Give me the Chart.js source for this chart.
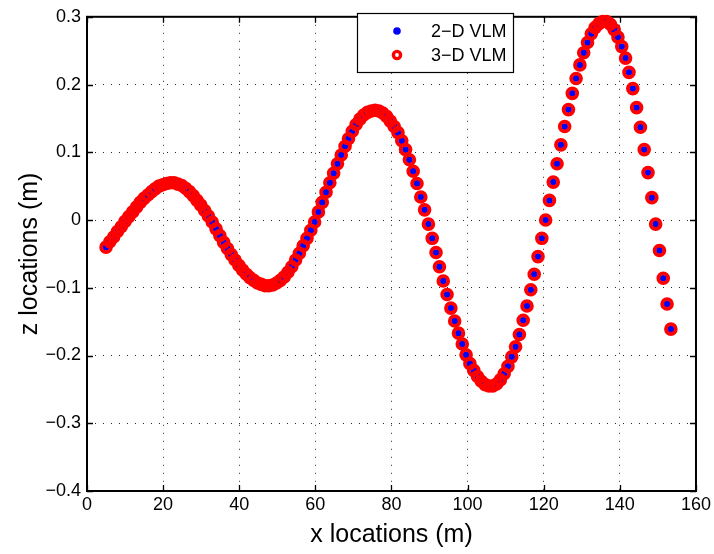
<!DOCTYPE html>
<html>
<head>
<meta charset="utf-8">
<script src="https://cdn.jsdelivr.net/npm/chart.js@4.4.1/dist/chart.umd.min.js"></script>
<style>
  html, body { margin: 0; padding: 0; background: #fff; }
  #wrap { width: 714px; height: 554px; }
</style>
</head>
<body>
<div id="wrap"><canvas id="wake" width="714" height="554"></canvas></div>
<script>
// Wake panel positions (x, z) in metres.
const xLocations = [
  5.0, 6.0, 7.0, 8.0, 9.0, 10.0, 11.0, 12.0, 13.0, 14.0,
  15.0, 16.0, 17.0, 17.9, 18.9, 19.9, 20.9, 21.9, 22.9, 23.9,
  24.9, 25.9, 26.9, 27.9, 28.9, 29.9, 30.9, 31.9, 32.9, 33.9,
  34.9, 35.9, 36.9, 37.9, 38.9, 39.9, 40.9, 41.9, 42.8, 43.8,
  44.8, 45.8, 46.8, 47.8, 48.8, 49.8, 50.8, 51.8, 52.8, 53.8,
  54.8, 55.8, 56.8, 57.8, 58.8, 59.8, 60.8, 61.8, 62.8, 63.8,
  64.8, 65.8, 66.8, 67.8, 68.7, 69.7, 70.7, 71.7, 72.7, 73.7,
  74.7, 75.7, 76.7, 77.7, 78.7, 79.7, 80.7, 81.7, 82.7, 83.7,
  84.7, 85.7, 86.7, 87.7, 88.7, 89.7, 90.7, 91.7, 92.6, 93.6,
  94.6, 95.6, 96.6, 97.6, 98.6, 99.6, 100.6, 101.6, 102.6, 103.6,
  104.6, 105.6, 106.6, 107.6, 108.6, 109.6, 110.6, 111.6, 112.6, 113.6,
  114.6, 115.6, 116.6, 117.5, 118.5, 119.5, 120.5, 121.5, 122.5, 123.5,
  124.5, 125.5, 126.5, 127.5, 128.5, 129.5, 130.5, 131.5, 132.5, 133.5,
  134.5, 135.5, 136.5, 137.5, 138.5, 139.5, 140.5, 141.5, 142.4, 143.4,
  144.4, 145.4, 146.4, 147.4, 148.4, 149.4, 150.4, 151.4, 152.4, 153.4
];

const zVlm2D = [
  -0.040, -0.032, -0.025, -0.017, -0.010, -0.002, 0.005, 0.012, 0.019, 0.026,
  0.032, 0.037, 0.042, 0.046, 0.050, 0.052, 0.054, 0.055, 0.055, 0.053,
  0.051, 0.047, 0.042, 0.036, 0.029, 0.022, 0.014, 0.006, -0.003, -0.013,
  -0.023, -0.033, -0.042, -0.051, -0.059, -0.067, -0.074, -0.080, -0.085, -0.089,
  -0.093, -0.095, -0.097, -0.097, -0.096, -0.093, -0.089, -0.084, -0.077, -0.069,
  -0.059, -0.049, -0.038, -0.027, -0.015, -0.003, 0.012, 0.026, 0.041, 0.055,
  0.069, 0.083, 0.096, 0.109, 0.120, 0.131, 0.141, 0.149, 0.155, 0.159,
  0.161, 0.162, 0.161, 0.158, 0.153, 0.146, 0.138, 0.129, 0.117, 0.104,
  0.089, 0.072, 0.054, 0.034, 0.015, -0.006, -0.027, -0.048, -0.069, -0.090,
  -0.110, -0.130, -0.149, -0.167, -0.183, -0.199, -0.212, -0.222, -0.231, -0.238,
  -0.243, -0.245, -0.245, -0.242, -0.236, -0.227, -0.216, -0.202, -0.187, -0.169,
  -0.148, -0.127, -0.103, -0.080, -0.054, -0.027, 0.000, 0.029, 0.056, 0.083,
  0.111, 0.138, 0.163, 0.187, 0.209, 0.229, 0.247, 0.262, 0.275, 0.284,
  0.290, 0.293, 0.293, 0.289, 0.281, 0.270, 0.256, 0.239, 0.218, 0.194,
  0.166, 0.137, 0.104, 0.070, 0.033, -0.006, -0.045, -0.086, -0.124, -0.161
];

const zVlm3D = [
  -0.040, -0.032, -0.025, -0.017, -0.010, -0.002, 0.005, 0.012, 0.019, 0.026,
  0.032, 0.037, 0.042, 0.046, 0.050, 0.052, 0.054, 0.055, 0.055, 0.053,
  0.051, 0.047, 0.042, 0.036, 0.029, 0.022, 0.014, 0.006, -0.003, -0.013,
  -0.023, -0.033, -0.042, -0.051, -0.059, -0.067, -0.074, -0.080, -0.085, -0.089,
  -0.093, -0.095, -0.097, -0.097, -0.096, -0.093, -0.089, -0.084, -0.077, -0.069,
  -0.059, -0.049, -0.038, -0.027, -0.015, -0.003, 0.012, 0.026, 0.041, 0.055,
  0.069, 0.083, 0.096, 0.109, 0.120, 0.131, 0.141, 0.149, 0.155, 0.159,
  0.161, 0.162, 0.161, 0.158, 0.153, 0.146, 0.138, 0.129, 0.117, 0.104,
  0.089, 0.072, 0.054, 0.034, 0.015, -0.006, -0.027, -0.048, -0.069, -0.090,
  -0.110, -0.130, -0.149, -0.167, -0.183, -0.199, -0.212, -0.222, -0.231, -0.238,
  -0.243, -0.245, -0.245, -0.242, -0.236, -0.227, -0.216, -0.202, -0.187, -0.169,
  -0.148, -0.127, -0.103, -0.080, -0.054, -0.027, 0.000, 0.029, 0.056, 0.083,
  0.111, 0.138, 0.163, 0.187, 0.209, 0.229, 0.247, 0.262, 0.275, 0.284,
  0.290, 0.293, 0.293, 0.289, 0.281, 0.270, 0.256, 0.239, 0.218, 0.194,
  0.166, 0.137, 0.104, 0.070, 0.033, -0.006, -0.045, -0.086, -0.124, -0.161
];

const seriesNames = ['2\u2212D VLM', '3\u2212D VLM'];

const xTickValues = [0, 20, 40, 60, 80, 100, 120, 140, 160];
const xTickLabels = ['0', '20', '40', '60', '80', '100', '120', '140', '160'];
const zTickValues = [-0.4, -0.3, -0.2, -0.1, 0, 0.1, 0.2, 0.3];
const zTickLabels = ['\u22120.4', '\u22120.3', '\u22120.2', '\u22120.1', '0', '0.1', '0.2', '0.3'];

const FONT = "'Liberation Sans', Arial, Helvetica, sans-serif";
const BLUE = '#0000ff';
const RED = '#ff0000';

function pairs(xs, zs) {
  return xs.map((x, i) => ({ x: x, y: zs[i] }));
}

// Axes frame with inward tick marks, drawn beneath the markers.
const axesFrame = {
  id: 'axesFrame',
  beforeDatasetsDraw(chart) {
    const { ctx, chartArea: a, scales } = chart;
    const len = 6;
    ctx.save();
    ctx.strokeStyle = '#000';
    ctx.lineWidth = 1.3;
    ctx.beginPath();
    xTickValues.forEach(v => {
      const px = Math.round(scales.x.getPixelForValue(v)) + 0.5;
      ctx.moveTo(px, a.bottom); ctx.lineTo(px, a.bottom - len);
      ctx.moveTo(px, a.top); ctx.lineTo(px, a.top + len);
    });
    zTickValues.forEach(v => {
      const py = Math.round(scales.y.getPixelForValue(v)) + 0.5;
      ctx.moveTo(a.left, py); ctx.lineTo(a.left + len, py);
      ctx.moveTo(a.right, py); ctx.lineTo(a.right - len, py);
    });
    ctx.stroke();
    ctx.lineWidth = 2;
    ctx.strokeRect(a.left, a.top, a.right - a.left, a.bottom - a.top);
    ctx.restore();
  }
};

// Boxed legend in the upper part of the axes.
const boxLegend = {
  id: 'boxLegend',
  afterDatasetsDraw(chart) {
    const { ctx } = chart;
    const left = 357, top = 13, w = 156, h = 59;
    ctx.save();
    ctx.fillStyle = '#fff';
    ctx.fillRect(left, top, w, h);
    ctx.strokeStyle = '#000';
    ctx.lineWidth = 1.2;
    ctx.strokeRect(left + 0.5, top + 0.5, w, h);

    const mx = 397;
    const rows = [31, 55];
    // filled dot
    ctx.fillStyle = BLUE;
    ctx.beginPath(); ctx.arc(mx, rows[0], 3.8, 0, Math.PI * 2); ctx.fill();
    // open circle
    ctx.strokeStyle = RED;
    ctx.lineWidth = 3.4;
    ctx.beginPath(); ctx.arc(mx, rows[1], 3.6, 0, Math.PI * 2); ctx.stroke();

    ctx.fillStyle = '#000';
    ctx.font = '18px ' + FONT;
    ctx.textAlign = 'left';
    ctx.textBaseline = 'middle';
    ctx.fillText(seriesNames[0], 431, rows[0] + 1);
    ctx.fillText(seriesNames[1], 431, rows[1] + 1);
    ctx.restore();
  }
};

new Chart(document.getElementById('wake'), {
  type: 'scatter',
  data: {
    datasets: [
      {
        label: seriesNames[1],
        data: pairs(xLocations, zVlm3D),
        order: 0,
        pointStyle: 'circle',
        pointRadius: 4.9,
        pointBorderWidth: 3.8,
        pointBorderColor: RED,
        pointBackgroundColor: 'rgba(0,0,0,0)',
        showLine: false,
        clip: false
      },
      {
        label: seriesNames[0],
        data: pairs(xLocations, zVlm2D),
        order: 1,
        pointStyle: 'circle',
        pointRadius: 3.4,
        pointBorderWidth: 0,
        pointBackgroundColor: BLUE,
        pointBorderColor: BLUE,
        showLine: false,
        clip: false
      }
    ]
  },
  options: {
    responsive: false,
    animation: false,
    events: [],
    devicePixelRatio: 1,
    layout: { padding: { left: 0, right: 17, top: 13, bottom: 0 } },
    plugins: {
      legend: { display: false },
      tooltip: { enabled: false }
    },
    scales: {
      x: {
        type: 'linear',
        min: 0,
        max: 160,
        afterBuildTicks: s => { s.ticks = xTickValues.map(v => ({ value: v })); },
        afterFit: s => { s.height = 63; },
        ticks: {
          callback: (v, i) => xTickLabels[i],
          font: { family: FONT, size: 18 },
          color: '#000',
          padding: 3,
          maxRotation: 0,
          autoSkip: false
        },
        grid: { color: 'rgba(0,0,0,0.85)', lineWidth: 1, drawTicks: false },
        border: { display: false, dash: [1, 7] },
        title: {
          display: true,
          text: 'x locations (m)',
          font: { family: FONT, size: 25 },
          color: '#000',
          padding: { top: 0, bottom: 4 }
        }
      },
      y: {
        type: 'linear',
        min: -0.4,
        max: 0.3,
        afterBuildTicks: s => { s.ticks = zTickValues.map(v => ({ value: v })); },
        afterFit: s => { s.width = 87; },
        ticks: {
          callback: (v, i) => zTickLabels[i],
          font: { family: FONT, size: 18 },
          color: '#000',
          padding: 6,
          autoSkip: false
        },
        grid: { color: 'rgba(0,0,0,0.85)', lineWidth: 1, drawTicks: false },
        border: { display: false, dash: [1, 7] },
        title: {
          display: true,
          text: 'z locations (m)',
          font: { family: FONT, size: 25 },
          color: '#000',
          padding: { top: 15, bottom: 0 }
        }
      }
    }
  },
  plugins: [axesFrame, boxLegend]
});
</script>
</body>
</html>
